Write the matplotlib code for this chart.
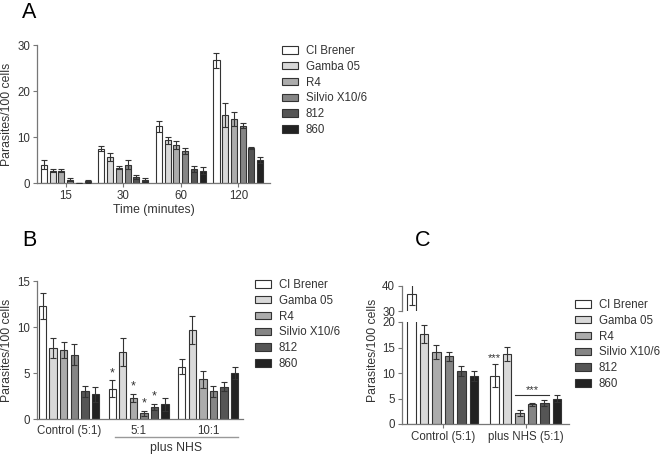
import matplotlib
matplotlib.use("Agg")
import matplotlib.pyplot as plt
import numpy as np

plt.rcParams['font.family'] = ['Liberation Sans', 'DejaVu Sans']

strains = ["Cl Brener", "Gamba 05", "R4", "Silvio X10/6", "812", "860"]
colors = ["#ffffff", "#d9d9d9", "#acacac", "#858585", "#555555", "#222222"]

# Panel A
a_groups = ["15", "30", "60", "120"]
a_vals = [[4.0, 7.5, 12.3, 26.7],
          [2.7, 5.6, 9.3, 14.7],
          [2.7, 3.3, 8.3, 14.0],
          [0.7, 4.0, 7.0, 12.5],
          [0.0, 1.3, 3.0, 7.6],
          [0.4, 0.7, 2.7, 5.0]]
a_errs = [[0.9, 0.5, 1.2, 1.6],
          [0.4, 0.9, 0.8, 2.6],
          [0.4, 0.3, 0.9, 1.5],
          [0.3, 1.0, 0.6, 0.5],
          [0.0, 0.4, 0.6, 0.3],
          [0.3, 0.3, 0.8, 0.7]]

# Panel B
b_groups = ["Control (5:1)", "5:1", "10:1"]
b_vals = [[12.3, 3.3, 5.7],
          [7.7, 7.3, 9.7],
          [7.5, 2.3, 4.3],
          [7.0, 0.6, 3.0],
          [3.0, 1.3, 3.5],
          [2.7, 1.6, 5.0]]
b_errs = [[1.4, 0.9, 0.8],
          [1.1, 1.5, 1.5],
          [0.9, 0.4, 0.9],
          [1.1, 0.3, 0.6],
          [0.6, 0.3, 0.5],
          [0.8, 0.7, 0.6]]
b_stars = [(0, 1), (2, 1), (3, 1), (4, 1)]  # (strain, group)

# Panel C
c_groups = ["Control (5:1)", "plus NHS (5:1)"]
c_vals = [[37.0, 9.5],
          [17.7, 13.7],
          [14.1, 2.1],
          [13.3, 3.9],
          [10.4, 4.1],
          [9.4, 5.0]]
c_errs = [[4.5, 2.2],
          [1.8, 1.4],
          [1.4, 0.6],
          [0.9, 0.3],
          [0.9, 0.6],
          [0.9, 0.6]]

W, H = 661, 455
fig = plt.figure(figsize=(W / 100, H / 100), dpi=100)

spine_col = "#777777"
text_col = "#333333"
edge_col = "#333333"
err_col = "#333333"
step = 0.152
bw = 0.105
fs = 8.3


def box(x0, y0, x1, y1):
    return [x0 / W, 1 - y1 / H, (x1 - x0) / W, (y1 - y0) / H]


def style(ax, bottom=True):
    for s in ["top", "right"]:
        ax.spines[s].set_visible(False)
    ax.spines["left"].set_color(spine_col)
    ax.spines["bottom"].set_color(spine_col)
    ax.spines["left"].set_linewidth(0.9)
    ax.spines["bottom"].set_linewidth(0.9)
    ax.tick_params(colors=spine_col, labelcolor=text_col, labelsize=fs,
                   length=3, width=0.8, pad=2)
    if not bottom:
        ax.spines["bottom"].set_visible(False)
        ax.tick_params(axis="x", bottom=False, labelbottom=False)


def bars(ax, vals, errs, ngroups, bw_=bw, step_=step, cap=2):
    x = np.arange(ngroups)
    for i in range(6):
        ax.bar(x + (i - 2.5) * step_, vals[i], bw_, color=colors[i],
               edgecolor=edge_col, linewidth=0.8, zorder=2)
        ax.errorbar(x + (i - 2.5) * step_, vals[i], yerr=errs[i], fmt="none",
                    ecolor=err_col, elinewidth=0.8, capsize=cap, capthick=0.8,
                    zorder=3)


def legend(ax, x, y):
    handles = [plt.Rectangle((0, 0), 1, 1, facecolor=colors[i], edgecolor=edge_col,
                             linewidth=0.8) for i in range(6)]
    ax.legend(handles, strains, loc="upper left", bbox_to_anchor=(x / W, 1 - y / H),
              bbox_transform=fig.transFigure, frameon=False, fontsize=fs,
              handlelength=1.35, handleheight=0.6, handletextpad=0.7,
              labelspacing=0.33, borderpad=0, borderaxespad=0, labelcolor=text_col)


# ---- Panel A ----
axA = fig.add_axes(box(37, 45, 270, 183))
bars(axA, a_vals, a_errs, 4)
axA.set_xlim(-0.5, 3.55)
axA.set_ylim(0, 30)
axA.set_yticks([0, 10, 20, 30])
axA.set_xticks(range(4))
axA.set_xticklabels(a_groups)
style(axA)
axA.set_ylabel("Parasites/100 cells", fontsize=fs + 0.5, color=text_col)
axA.yaxis.set_label_coords(-24 / 233, 0.5)
axA.set_xlabel("Time (minutes)", fontsize=fs + 0.5, color=text_col, labelpad=1.5)
legend(axA, 282, 45)
fig.text(22 / W, 1 - 12 / H, "A", fontsize=15.5, va="center", ha="left")

# ---- Panel B ----
axB = fig.add_axes(box(37, 281, 243, 419))
bars(axB, b_vals, b_errs, 3)
axB.set_xlim(-0.46, 2.5)
axB.set_ylim(0, 15)
axB.set_yticks([0, 5, 10, 15])
axB.set_xticks(range(3))
axB.set_xticklabels(b_groups)
style(axB)
axB.tick_params(axis="x", length=0, pad=4)
axB.set_ylabel("Parasites/100 cells", fontsize=fs + 0.5, color=text_col)
axB.yaxis.set_label_coords(-24 / 206, 0.5)
for (si, gi) in b_stars:
    xx = gi + (si - 2.5) * step
    axB.text(xx, b_vals[si][gi] + b_errs[si][gi] + 0.15, "*", ha="center", va="bottom",
             fontsize=9, color=text_col)
axB.plot([115 / W, 238 / W], [1 - 437 / H, 1 - 437 / H], transform=fig.transFigure,
         color="#999999", linewidth=1.0, clip_on=False)
fig.text(176 / W, 1 - 448 / H, "plus NHS", fontsize=fs + 0.5, ha="center", va="center",
         color=text_col)
legend(axB, 255, 279)
fig.text(22 / W, 1 - 240 / H, "B", fontsize=15.5, va="center", ha="left")

# ---- Panel C (broken axis) ----
axC = fig.add_axes(box(402, 322, 569, 424))
axCt = fig.add_axes(box(402, 286, 569, 311))
for ax in (axC, axCt):
    bars(ax, c_vals, c_errs, 2, bw_=0.1, step_=0.15, cap=2.5)
    ax.set_xlim(-0.49, 1.52)
axC.set_ylim(0, 20)
axC.set_yticks([0, 5, 10, 15, 20])
axCt.set_ylim(30, 40)
axCt.set_yticks([30, 40])
axC.set_xticks(range(2))
axC.set_xticklabels(c_groups)
style(axC)
style(axCt, bottom=False)
axC.tick_params(axis="x", length=3, pad=2)
axC.set_ylabel("Parasites/100 cells", fontsize=fs + 0.5, color=text_col)
axC.yaxis.set_label_coords(-0.14, 0.72)
# significance marks
xw = 1 + (0 - 2.5) * 0.15
axC.text(xw, c_vals[0][1] + c_errs[0][1] + 0.2, "***", ha="center", va="bottom",
         fontsize=8, color=text_col)
x_l = 1 + (2 - 2.5) * 0.15 - 0.05
x_r = 1 + (4 - 2.5) * 0.15 + 0.05
axC.plot([x_l, x_r], [5.7, 5.7], color=text_col, linewidth=0.8, zorder=4)
axC.text((x_l + x_r) / 2, 5.75, "***", ha="center", va="bottom", fontsize=8,
         color=text_col)
legend(axC, 575, 299)
fig.text(415 / W, 1 - 240 / H, "C", fontsize=15.5, va="center", ha="left")

fig.savefig("out.png", dpi=100)
